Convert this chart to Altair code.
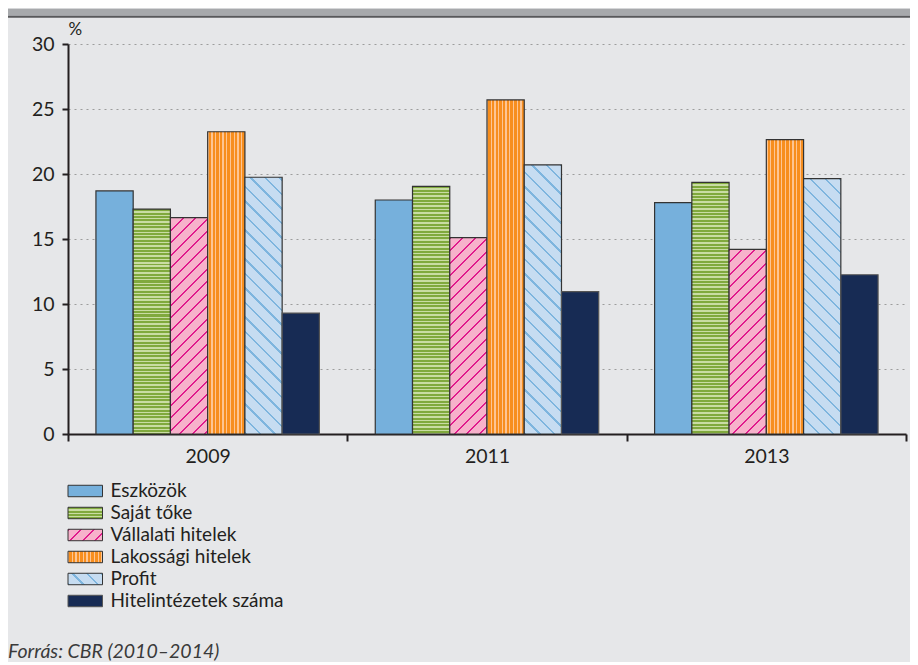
import altair as alt

# ---------------- data ----------------
years = ["2009", "2011", "2013"]
series = ["Eszközök", "Saját tőke", "Vállalati hitelek", "Lakossági hitelek",
          "Profit", "Hitelintézetek száma"]
eszkozok = [18.7, 18.0, 17.8]
sajat_toke = [17.3, 19.05, 19.35]
vallalati = [16.65, 15.1, 14.2]
lakossagi = [23.25, 25.7, 22.65]
profit = [19.75, 20.7, 19.65]
hitelintezetek = [9.3, 10.95, 12.25]
values_by_series = [eszkozok, sajat_toke, vallalati, lakossagi, profit, hitelintezetek]
y_ticks = [0, 5, 10, 15, 20, 25, 30]
source_text = "Forrás: CBR (2010–2014)"

# ---------------- layout ----------------
W, H = 838, 390
Y_MAX = 30
PAD_OUT = 0.75
BAR_W = W / len(years) / (len(series) + 2 * PAD_OUT)
PX_PER_UNIT = H / Y_MAX
SW_W, SW_H = 34.5, 11.44

TEXT = "#231f20"
FONT = "Lato"


def stripe_stops(span, period, line_w, c_line, c_bg):
    stops = []
    p = 0.0
    while p < span - 1e-9:
        a = p / span
        b = min((p + line_w) / span, 1.0)
        c = min((p + period) / span, 1.0)
        stops += [{"offset": a, "color": c_line}, {"offset": b, "color": c_line},
                  {"offset": b, "color": c_bg}, {"offset": c, "color": c_bg}]
        p += period
    return stops


def fill_for(j, w, h, gid):
    if j == 0:
        return "#76b0dc"
    if j == 5:
        return "#172b54"
    if j == 1:  # horizontal stripes
        return {"gradient": "linear", "id": gid, "x1": 0, "y1": 0, "x2": 0, "y2": 1,
                "stops": stripe_stops(h, 3.4, 2.0, "#80a93d", "#c9dca3")}
    if j == 3:  # vertical stripes
        return {"gradient": "linear", "id": gid, "x1": 0, "y1": 0, "x2": 1, "y2": 0,
                "stops": stripe_stops(w, 3.7, 1.3, "#fdc593", "#f78e1e")}
    r = h / w
    s = (1 + r) / (1 + r * r)
    if j == 2:  # "/" diagonal
        return {"gradient": "linear", "id": gid, "x1": 0, "y1": 0, "x2": s, "y2": s * r,
                "stops": stripe_stops(w + h, 12.5, 2.0, "#e01a8c", "#f7b1cb")}
    # j == 4 : "\" diagonal
    return {"gradient": "linear", "id": gid, "x1": 0, "y1": 1, "x2": s, "y2": 1 - s * r,
            "stops": stripe_stops(w + h, 14.5, 2.4, "#7eb5de", "#c6dcf1")}


def stroke_for(j):
    return "#555555" if j == 5 else "#333333"


records = []
for i, yr in enumerate(years):
    for j, s in enumerate(series):
        v = values_by_series[j][i]
        records.append({"year": yr, "series": s, "value": v,
                        "grad": fill_for(j, BAR_W, v * PX_PER_UNIT, f"pat_{i}_{j}"),
                        "strk": stroke_for(j)})

legend_records = [{"series": s, "grad": fill_for(j, SW_W, SW_H, f"leg_{j}"),
                   "strk": stroke_for(j)} for j, s in enumerate(series)]

# ---------------- main chart ----------------
bars = alt.Chart(alt.Data(values=records)).mark_bar(strokeWidth=1.2, opacity=1).encode(
    x=alt.X("year:N", sort=years, title=None,
            scale=alt.Scale(paddingInner=0, paddingOuter=0),
            axis=alt.Axis(tickBand="extent", tickSize=7, tickWidth=2, tickColor=TEXT,
                          domainColor=TEXT, domainWidth=2, labelFontSize=19.5,
                          labelColor=TEXT, labelPadding=6, labelAngle=0, grid=False,
                          labelFont=FONT)),
    xOffset=alt.XOffset("series:N", sort=series,
                        scale=alt.Scale(paddingInner=0, paddingOuter=PAD_OUT)),
    y=alt.Y("value:Q", scale=alt.Scale(domain=[0, Y_MAX], nice=False),
            axis=alt.Axis(values=y_ticks, title="%", titleAngle=0, titleAlign="left",
                          titleBaseline="bottom", titleX=0, titleY=-6, titleFontSize=17,
                          titleFontWeight="normal", titleColor=TEXT, titleFont=FONT,
                          grid=True, gridDash=[2, 4], gridColor="#9d9d9d", gridWidth=1,
                          tickSize=6, tickWidth=2, tickColor=TEXT, domainColor=TEXT,
                          domainWidth=2, labelPadding=8, labelFontSize=19.5,
                          labelColor=TEXT, labelFont=FONT)),
    fill=alt.Fill("grad:N", scale=None),
    stroke=alt.Stroke("strk:N", scale=None),
)

deco = alt.Data(values=[{"k": 1}])
top_band = alt.Chart(deco).mark_rect(color="#a7a9ac").encode(
    x=alt.value(-60), x2=alt.value(W + 4), y=alt.value(-35.3), y2=alt.value(-28.3))
top_line = alt.Chart(deco).mark_rect(color="#58595b").encode(
    x=alt.value(-60), x2=alt.value(W + 4), y=alt.value(-28.3), y2=alt.value(-26.3))

main = alt.layer(top_band, top_line, bars).properties(width=W, height=H)

# ---------------- legend ----------------
leg_base = alt.Chart(alt.Data(values=legend_records)).encode(
    y=alt.Y("series:N", sort=series, axis=None,
            scale=alt.Scale(paddingInner=0.48, paddingOuter=0.24)))
leg_rect = leg_base.mark_rect(strokeWidth=1, opacity=1).encode(
    x=alt.value(0), x2=alt.value(SW_W),
    fill=alt.Fill("grad:N", scale=None),
    stroke=alt.Stroke("strk:N", scale=None))
leg_text = leg_base.mark_text(align="left", baseline="middle", fontSize=19,
                              color=TEXT, font=FONT).encode(
    x=alt.value(SW_W + 8), text="series:N")
src = alt.Chart(alt.Data(values=[{"t": source_text}])).mark_text(
    align="left", baseline="alphabetic", fontSize=19.5, fontStyle="italic",
    color="#3a3a3a", font=FONT).encode(x=alt.value(-60), y=alt.value(178), text="t:N")

legend = alt.layer(leg_rect, leg_text, src).properties(width=W, height=132)

chart = alt.vconcat(main, legend, spacing=14).properties(
    padding=0, autosize=alt.AutoSizeParams(type="pad")
).configure(background="#e6e7e9", font=FONT).configure_view(stroke=None)

chart.save("out.html", embed_options={"renderer": "svg", "actions": False})
